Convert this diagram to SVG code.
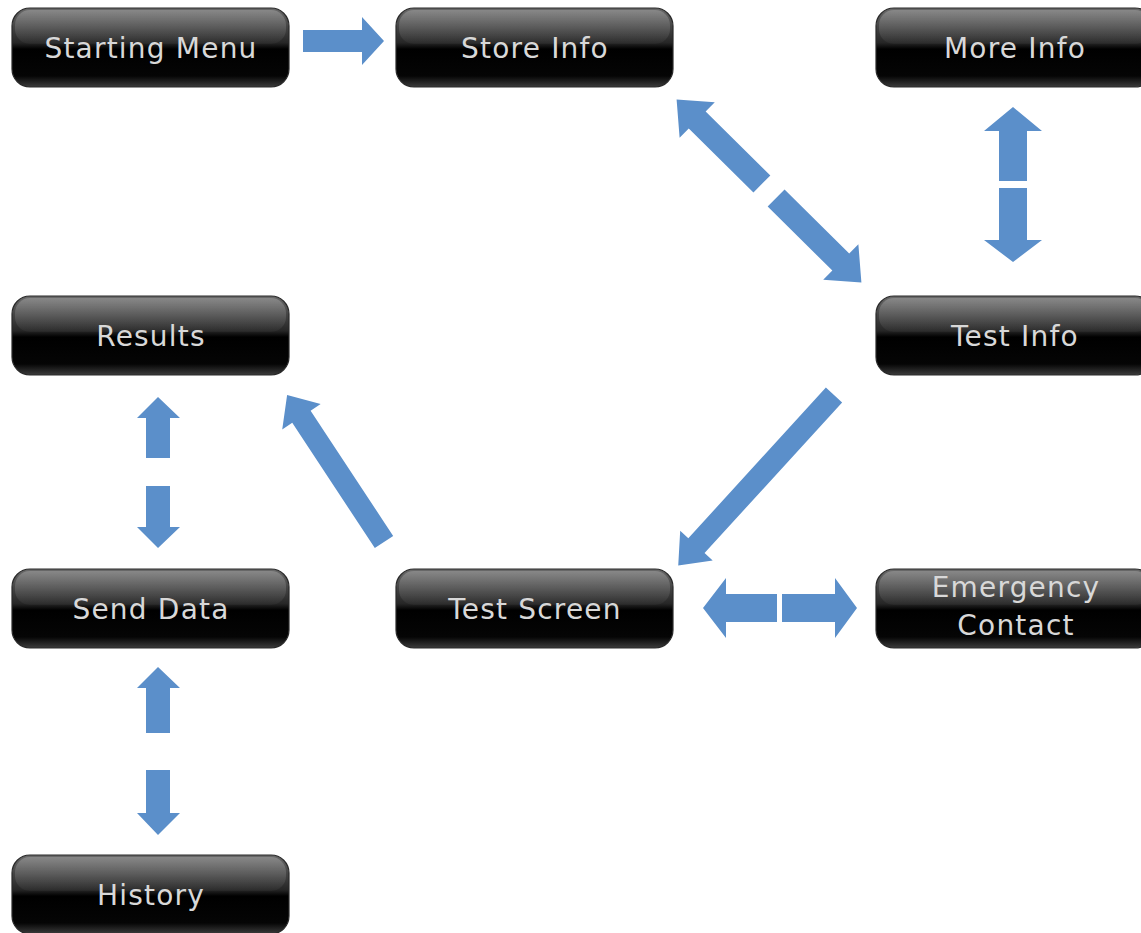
<svg xmlns="http://www.w3.org/2000/svg" width="1141" height="933" viewBox="0 0 1141 933">
  <defs>
    <linearGradient id="btnFill" x1="0" y1="0" x2="0" y2="1">
      <stop offset="0" stop-color="#6a6a6a"/>
      <stop offset="0.2" stop-color="#4a4a4a"/>
      <stop offset="0.44" stop-color="#262626"/>
      <stop offset="0.52" stop-color="#000"/>
      <stop offset="0.86" stop-color="#050505"/>
      <stop offset="1" stop-color="#3c3c3c"/>
    </linearGradient>
    <linearGradient id="btnGloss" x1="0" y1="0" x2="0" y2="1">
      <stop offset="0" stop-color="#fff" stop-opacity="0.22"/>
      <stop offset="1" stop-color="#fff" stop-opacity="0.03"/>
    </linearGradient>
    <style>
      .btn { fill: url(#btnFill); stroke: #2a2a2a; stroke-width: 1.2; }
      .gloss { fill: url(#btnGloss); }
      .label { font-family: "DejaVu Sans", "Liberation Sans", sans-serif; font-size: 28px; letter-spacing: 1.2px; fill: #d8d8d8; text-anchor: middle; }
      .arrow { fill: #5b8fca; }
    </style>
  </defs>
  <rect width="1141" height="933" fill="#fff"/>

  <!-- screens -->
  <g id="starting-menu">
    <rect class="btn" x="12" y="8" width="277" height="79" rx="18"/>
    <rect class="gloss" x="15" y="10" width="271" height="34" rx="15"/>
    <text class="label" x="151" y="58">Starting Menu</text>
  </g>
  <g id="store-info">
    <rect class="btn" x="396" y="8" width="277" height="79" rx="18"/>
    <rect class="gloss" x="399" y="10" width="271" height="34" rx="15"/>
    <text class="label" x="535" y="58">Store Info</text>
  </g>
  <g id="more-info">
    <rect class="btn" x="876" y="8" width="277" height="79" rx="18"/>
    <rect class="gloss" x="879" y="10" width="271" height="34" rx="15"/>
    <text class="label" x="1015" y="58">More Info</text>
  </g>
  <g id="results">
    <rect class="btn" x="12" y="296" width="277" height="79" rx="18"/>
    <rect class="gloss" x="15" y="298" width="271" height="34" rx="15"/>
    <text class="label" x="151" y="346">Results</text>
  </g>
  <g id="test-info">
    <rect class="btn" x="876" y="296" width="277" height="79" rx="18"/>
    <rect class="gloss" x="879" y="298" width="271" height="34" rx="15"/>
    <text class="label" x="1015" y="346">Test Info</text>
  </g>
  <g id="send-data">
    <rect class="btn" x="12" y="569" width="277" height="79" rx="18"/>
    <rect class="gloss" x="15" y="571" width="271" height="34" rx="15"/>
    <text class="label" x="151" y="619">Send Data</text>
  </g>
  <g id="test-screen">
    <rect class="btn" x="396" y="569" width="277" height="79" rx="18"/>
    <rect class="gloss" x="399" y="571" width="271" height="34" rx="15"/>
    <text class="label" x="535" y="619">Test Screen</text>
  </g>
  <g id="emergency-contact">
    <rect class="btn" x="876" y="569" width="277" height="79" rx="18"/>
    <rect class="gloss" x="879" y="571" width="271" height="34" rx="15"/>
    <text class="label" x="1016" y="597">Emergency</text>
    <text class="label" x="1016" y="635">Contact</text>
  </g>
  <g id="history">
    <rect class="btn" x="12" y="855" width="277" height="79" rx="18"/>
    <rect class="gloss" x="15" y="857" width="271" height="34" rx="15"/>
    <text class="label" x="151" y="905">History</text>
  </g>

  <!-- block arrows between screens -->
  <g id="connectors">
    <!-- Starting Menu -> Store Info -->
    <polygon class="arrow" points="303,30 362,30 362,17 384,41 362,65 362,52 303,52"/>
    <!-- Store Info <-> Test Info -->
    <g transform="translate(769,191) rotate(44.7)">
      <polygon class="arrow" points="-130,0 -101,-25 -101,-12 -10,-12 -10,12 -101,12 -101,25"/>
      <polygon class="arrow" points="130,0 101,-25 101,-12 10,-12 10,12 101,12 101,25"/>
    </g>
    <!-- More Info <-> Test Info -->
    <polygon class="arrow" points="1013,107 1042,131 1027,131 1027,181 999,181 999,131 984,131"/>
    <polygon class="arrow" points="999,188 1027,188 1027,240 1042,240 1013,262 984,240 999,240"/>
    <!-- Test Info -> Test Screen -->
    <polygon class="arrow" transform="translate(834,395) rotate(132.4)" points="0,-11 204,-11 204,-22 231,0 204,22 204,11 0,11"/>
    <!-- Test Screen -> Results -->
    <polygon class="arrow" transform="translate(384,542) rotate(-123.4)" points="0,-11 150,-11 150,-23 176,0 150,23 150,11 0,11"/>
    <!-- Results <-> Send Data -->
    <polygon class="arrow" points="158,397 180,418 170,418 170,458 146,458 146,418 137,418"/>
    <polygon class="arrow" points="146,486 170,486 170,527 180,527 158,548 137,527 146,527"/>
    <!-- Send Data <-> History -->
    <polygon class="arrow" points="158,667 180,688 170,688 170,733 146,733 146,688 137,688"/>
    <polygon class="arrow" points="146,770 170,770 170,813 180,813 158,835 137,813 146,813"/>
    <!-- Test Screen <-> Emergency Contact -->
    <polygon class="arrow" points="703,608 726,578 726,594 777,594 777,622 726,622 726,638"/>
    <polygon class="arrow" points="857,608 835,578 835,594 782,594 782,622 835,622 835,638"/>
  </g>
</svg>
